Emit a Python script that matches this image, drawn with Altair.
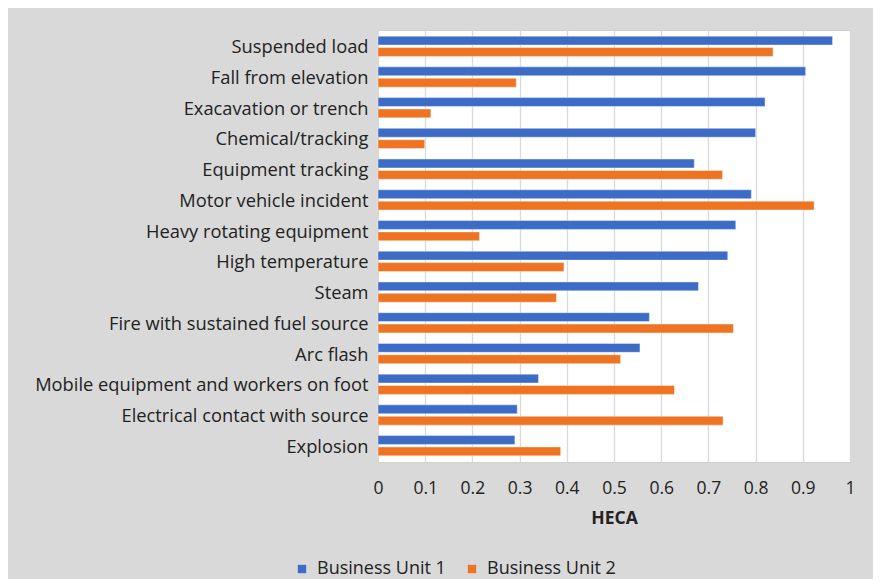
import altair as alt
import pandas as pd

categories = [
    "Suspended load", "Fall from elevation", "Exacavation or trench",
    "Chemical/tracking", "Equipment tracking", "Motor vehicle incident",
    "Heavy rotating equipment", "High temperature", "Steam",
    "Fire with sustained fuel source", "Arc flash",
    "Mobile equipment and workers on foot",
    "Electrical contact with source", "Explosion",
]
bu1 = [0.963, 0.906, 0.820, 0.800, 0.670, 0.791, 0.758, 0.741, 0.679,
       0.575, 0.555, 0.340, 0.295, 0.290]
bu2 = [0.837, 0.293, 0.112, 0.099, 0.730, 0.924, 0.215, 0.394, 0.378,
       0.753, 0.514, 0.628, 0.731, 0.387]
series = ["Business Unit 1", "Business Unit 2"]
x_ticks = [0, 0.1, 0.2, 0.3, 0.4, 0.5, 0.6, 0.7, 0.8, 0.9, 1]

rows = []
for c, a, b in zip(categories, bu1, bu2):
    rows.append({"cat": c, "series": series[0], "v": a})
    rows.append({"cat": c, "series": series[1], "v": b})
df = pd.DataFrame(rows)

FONT = "Open Sans"
TXT = "#222222"

chart = alt.Chart(df).mark_bar(stroke="#ffffff", strokeOpacity=0.5, strokeWidth=0.8).encode(
    y=alt.Y("cat:N", sort=categories, title=None,
            scale=alt.Scale(paddingInner=0.34),
            axis=alt.Axis(ticks=False, domain=False, labelPadding=10,
                          labelFontSize=18.3, labelColor=TXT, labelFont=FONT,
                          labelOffset=2, labelLimit=400)),
    yOffset=alt.YOffset("series:N", sort=series, scale=alt.Scale(paddingInner=0.22)),
    x=alt.X("v:Q", title="HECA",
            scale=alt.Scale(domain=[0, 1], nice=False),
            axis=alt.Axis(values=x_ticks, ticks=False, domain=False, labelPadding=17,
                          labelFlush=False,
                          labelFontSize=17.5, labelColor=TXT, labelFont=FONT,
                          gridColor="#d9d9d9", gridWidth=1.3,
                          titleFont=FONT, titleFontSize=17.5, titleFontWeight="bold",
                          titleColor=TXT, titlePadding=13,
                          labelExpr="format(datum.value, '.1~f')")),
    color=alt.Color("series:N", sort=series,
                    scale=alt.Scale(domain=series, range=["#3d6cc7", "#ee7424"]),
                    legend=alt.Legend(title=None, orient="none", direction="horizontal",
                                      legendX=-85, legendY=530,
                                      symbolType="square", symbolSize=70,
                                      symbolStrokeWidth=0,
                                      labelFont=FONT, labelFontSize=18,
                                      labelColor=TXT, columnPadding=17,
                                      labelOffset=6)),
).properties(
    width=472, height=432,
    background="#d9d9d9",
    padding={"left": 370, "top": 22, "right": 23, "bottom": 117},
    autosize=alt.AutoSizeParams(type="none"),
).configure_view(fill="white", stroke="#cfcfcf")

chart.save("out.html", embed_options={"renderer": "svg", "actions": False})
